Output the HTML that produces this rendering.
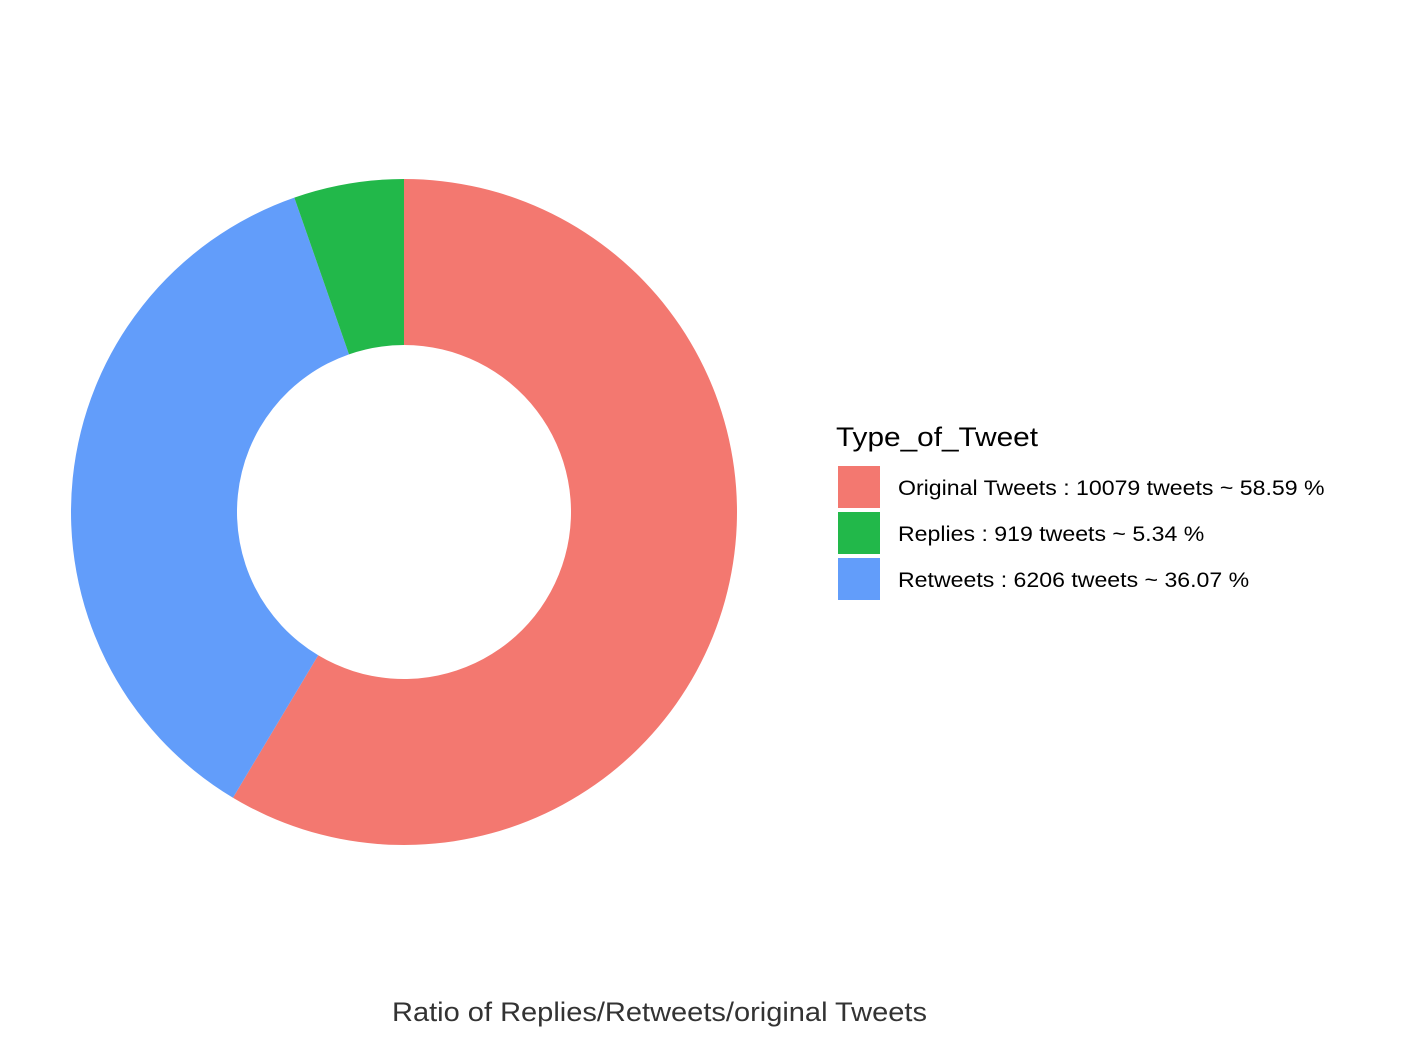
<!DOCTYPE html>
<html><head><meta charset="utf-8"><style>
body{margin:0;background:#fff;}
svg{display:block;font-family:"Liberation Sans",sans-serif;}
</style></head><body>
<svg id="chart" width="1404" height="1048">
<g id="slices"></g>
<g id="legend">
<text x="836" y="446" font-size="27" textLength="202" lengthAdjust="spacingAndGlyphs" fill="#000">Type_of_Tweet</text>
</g>
<text x="392" y="1021" font-size="27" textLength="535" lengthAdjust="spacingAndGlyphs" fill="#333">Ratio of Replies/Retweets/original Tweets</text>
</svg>
<script>
const categories=["Original Tweets","Replies","Retweets"];
const counts=[10079,919,6206];
const percents=[58.59,5.34,36.07];
const colors=["#F37870","#22B84A","#629DFA"];
const drawOrder=[0,2,1];
const cx=404,cy=512,R=333,r=167;
const NS="http://www.w3.org/2000/svg";
const total=counts.reduce((a,b)=>a+b,0);
function pt(a,rad){return [cx+rad*Math.sin(a),cy-rad*Math.cos(a)];}
let a0=0;
const g=document.getElementById('slices');
drawOrder.forEach(i=>{
  const a1=a0+counts[i]/total*2*Math.PI;
  const large=(a1-a0)>Math.PI?1:0;
  const [x0,y0]=pt(a0,R),[x1,y1]=pt(a1,R),[x2,y2]=pt(a1,r),[x3,y3]=pt(a0,r);
  const p=document.createElementNS(NS,'path');
  p.setAttribute('d',`M${x0},${y0}A${R},${R} 0 ${large} 1 ${x1},${y1}L${x2},${y2}A${r},${r} 0 ${large} 0 ${x3},${y3}Z`);
  p.setAttribute('fill',colors[i]);
  
  
  g.appendChild(p);
  a0=a1;
});
const lg=document.getElementById('legend');
categories.forEach((c,i)=>{
  const y=466+i*46;
  const rc=document.createElementNS(NS,'rect');
  rc.setAttribute('x',838);rc.setAttribute('y',y);rc.setAttribute('width',42);rc.setAttribute('height',42);
  rc.setAttribute('fill',colors[i]);
  
  
  lg.appendChild(rc);
  const t=document.createElementNS(NS,'text');
  t.setAttribute('x',898);t.setAttribute('y',y+29);t.setAttribute('font-size',21);
  t.textContent=`${c} : ${counts[i]} tweets ~ ${percents[i]} %`;
  
  
  lg.appendChild(t);
  const w=t.getComputedTextLength();
  t.setAttribute('textLength',w*1.1);
  t.setAttribute('lengthAdjust','spacingAndGlyphs');
});
</script>
</body></html>
